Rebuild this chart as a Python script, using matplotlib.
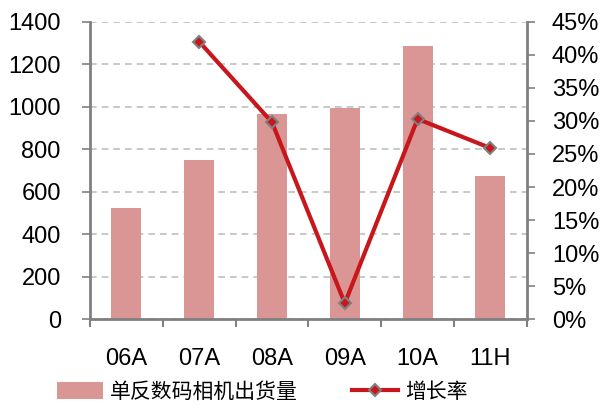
import matplotlib
matplotlib.use("Agg")
import matplotlib.pyplot as plt
from matplotlib.ticker import FuncFormatter, MultipleLocator, FixedLocator
import numpy as np

plt.rcParams['font.family'] = ['Liberation Sans', 'Noto Sans CJK SC', 'DejaVu Sans']

categories = ['06A', '07A', '08A', '09A', '10A', '11H']
shipments = [523, 750, 967, 995, 1287, 674]
growth = [None, 42.0, 29.8, 2.4, 30.3, 25.9]

bar_color = '#D99694'
line_color = '#C8161D'
axis_gray = '#808080'

fig = plt.figure(figsize=(6.0, 4.05), dpi=100)
ax = fig.add_axes([0.15, 0.212, 0.728, 0.734])
x = np.arange(len(categories))
bars = ax.bar(x, shipments, width=0.41, color=bar_color, zorder=2, label='单反数码相机出货量')
ax.set_xlim(-0.5, len(categories) - 0.5)
ax.set_ylim(0, 1400)
ax.yaxis.set_major_locator(MultipleLocator(200))
ax.grid(axis='y', color='#BFBFBF', linestyle=(0, (4, 3)), linewidth=1.2, zorder=0)
ax.set_xticks(x)
ax.set_xticklabels(categories)
ax.xaxis.set_minor_locator(FixedLocator(np.arange(-0.5, len(categories), 1)))
ax.tick_params(axis='x', which='major', length=0, pad=21, labelsize=17)
ax.tick_params(axis='x', which='minor', length=6, width=1.5, color=axis_gray)
ax.tick_params(axis='y', length=6, width=1.2, color=axis_gray, labelsize=17, pad=15)
for s in ['top', 'right']:
    ax.spines[s].set_visible(False)
ax.spines['left'].set_color(axis_gray)
ax.spines['left'].set_linewidth(2)
ax.spines['bottom'].set_color(axis_gray)
ax.spines['bottom'].set_linewidth(2)

ax2 = ax.twinx()
gx = [i for i, g in enumerate(growth) if g is not None]
gy = [g for g in growth if g is not None]
ln, = ax2.plot(gx, gy, color=line_color, linewidth=3, marker='D', markersize=6,
               markerfacecolor=line_color, markeredgecolor=axis_gray, markeredgewidth=1.5,
               zorder=3, label='增长率')
ax2.set_ylim(0, 45)
ax2.yaxis.set_major_locator(MultipleLocator(5))
ax2.yaxis.set_major_formatter(FuncFormatter(lambda v, p: f'{v:.0f}%'))
ax2.tick_params(axis='y', length=6, width=1.2, color=axis_gray, labelsize=17, pad=12)
for s in ['top', 'left', 'bottom']:
    ax2.spines[s].set_visible(False)
ax2.spines['right'].set_color(axis_gray)
ax2.spines['right'].set_linewidth(2)

fig.legend([bars, ln], ['单反数码相机出货量', '增长率'], loc='center',
           bbox_to_anchor=(0.437, 0.032), ncol=2, frameon=False,
           prop={'family': ['Noto Sans CJK SC'], 'size': 15},
           handlelength=2.2, handleheight=0.9, columnspacing=2.6, handletextpad=0.35)

fig.savefig('out.png', dpi=100)
